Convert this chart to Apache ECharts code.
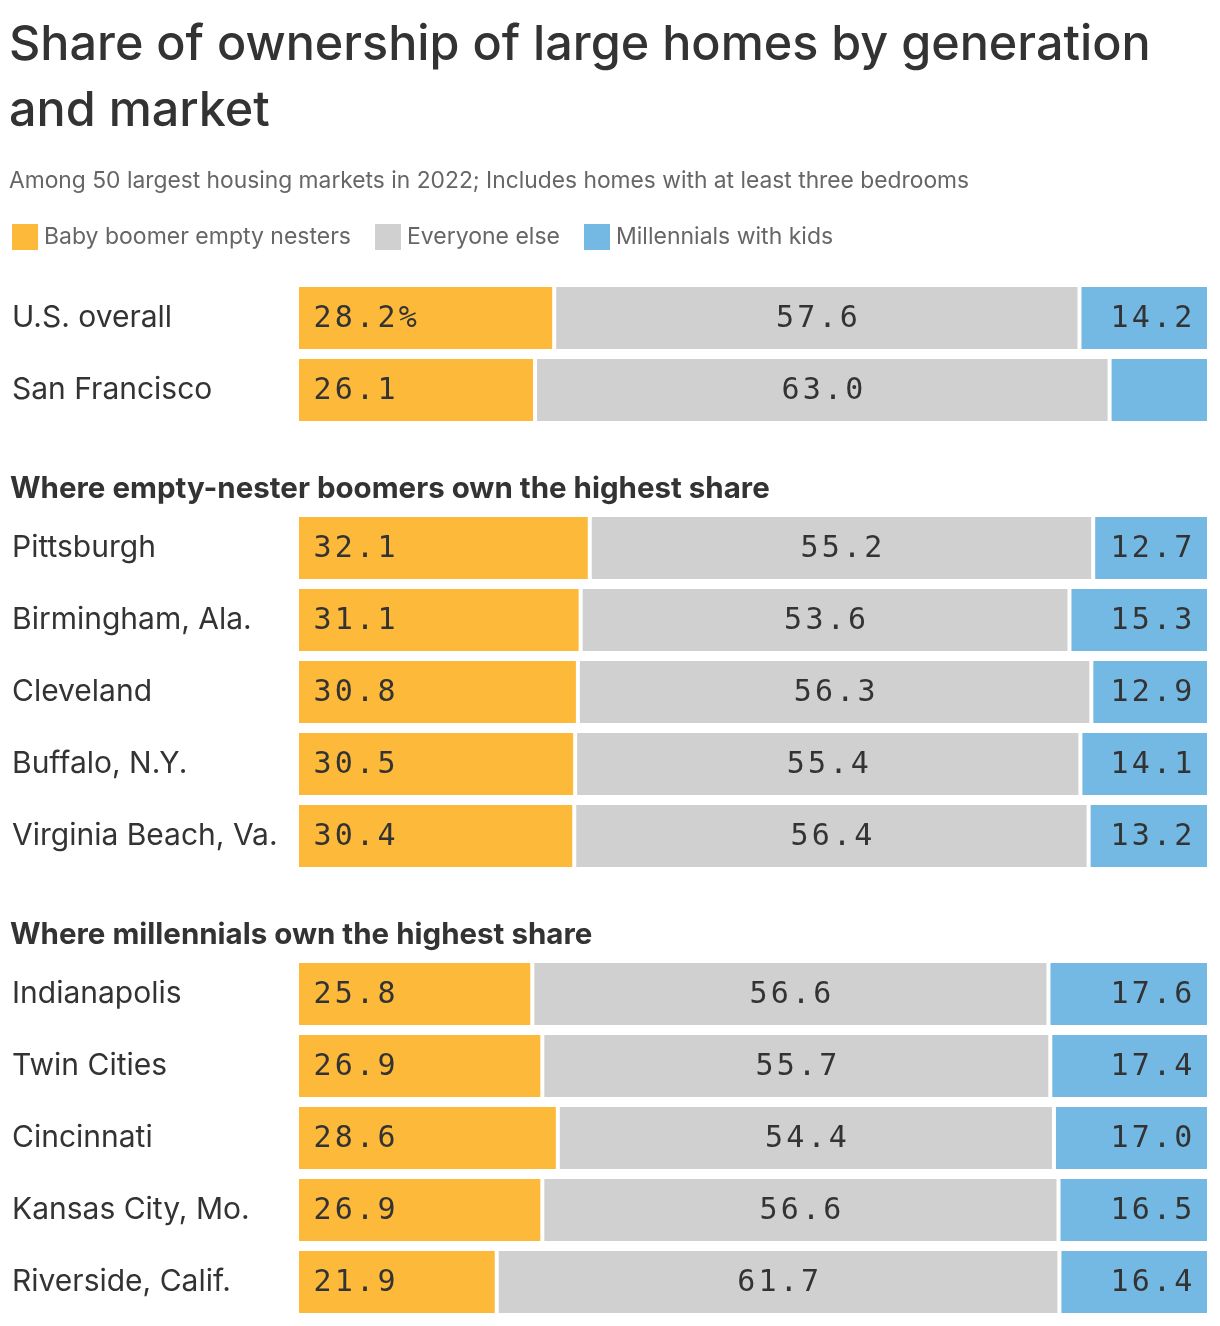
<!DOCTYPE html>
<html>
<head>
<meta charset="utf-8">
<script src="https://cdn.jsdelivr.net/npm/echarts@6/dist/echarts.min.js"></script>
<style>
html,body{margin:0;padding:0;background:#fff;}
#chart{width:1220px;height:1326px;}
</style>
</head>
<body>
<div id="chart"></div>
<script>
const seriesNames = ['Baby boomer empty nesters', 'Everyone else', 'Millennials with kids'];

const group1Cats = ['U.S. overall', 'San Francisco'];
const group1Boomers = [28.2, 26.1];
const group1Else = [57.6, 63.0];
const group1Millennials = [14.2, 10.9];

const group2Title = 'Where empty-nester boomers own the highest share';
const group2Cats = ['Pittsburgh', 'Birmingham, Ala.', 'Cleveland', 'Buffalo, N.Y.', 'Virginia Beach, Va.'];
const group2Boomers = [32.1, 31.1, 30.8, 30.5, 30.4];
const group2Else = [55.2, 53.6, 56.3, 55.4, 56.4];
const group2Millennials = [12.7, 15.3, 12.9, 14.1, 13.2];

const group3Title = 'Where millennials own the highest share';
const group3Cats = ['Indianapolis', 'Twin Cities', 'Cincinnati', 'Kansas City, Mo.', 'Riverside, Calif.'];
const group3Boomers = [25.8, 26.9, 28.6, 26.9, 21.9];
const group3Else = [56.6, 55.7, 54.4, 56.6, 61.7];
const group3Millennials = [17.6, 17.4, 17.0, 16.5, 16.4];

const colors = ['#FDB939', '#CFD0CF', '#74B9E3'];
const monoFont = '"DejaVu Sans Mono", "Liberation Mono", monospace';
const sansFont = 'Inter, Roboto, "Noto Sans", sans-serif';

const groups = [
  {cats: group1Cats, data: [group1Boomers, group1Else, group1Millennials], top: 282},
  {cats: group2Cats, data: [group2Boomers, group2Else, group2Millennials], top: 512},
  {cats: group3Cats, data: [group3Boomers, group3Else, group3Millennials], top: 958}
];

function spaced(s) {
  return s.split('').map(ch => '{c|' + ch + '}').join('');
}

const grids = [], xAxes = [], yAxes = [], series = [];
groups.forEach((g, gi) => {
  grids.push({left: 297, right: 11, top: g.top, height: g.cats.length * 72});
  xAxes.push({type: 'value', gridIndex: gi, min: 0, max: 100, show: false});
  yAxes.push({
    type: 'category', gridIndex: gi, data: g.cats, inverse: true,
    axisLine: {show: false}, axisTick: {show: false}, splitLine: {show: false},
    axisLabel: {align: 'left', margin: 285, fontSize: 30, color: '#333', fontFamily: sansFont}
  });
  g.data.forEach((vals, si) => {
    series.push({
      name: seriesNames[si], type: 'bar', stack: 'g' + gi,
      xAxisIndex: gi, yAxisIndex: gi,
      barWidth: 66,
      data: vals,
      itemStyle: {color: colors[si], borderColor: '#fff', borderWidth: 2},
      label: {
        show: true,
        position: si === 0 ? 'insideLeft' : (si === 1 ? 'inside' : 'insideRight'),
        distance: 15,
        offset: [0, 1],
        fontFamily: monoFont, fontSize: 30, color: '#333',
        rich: {c: {fontFamily: monoFont, fontSize: 30, color: '#333', padding: [0, 1.6, 0, 1.6]}},
        formatter: p => {
          if (gi === 0 && p.dataIndex === 1 && si === 2) return '';
          let s = p.value.toFixed(1);
          if (gi === 0 && p.dataIndex === 0 && si === 0) s += '%';
          return spaced(s);
        }
      },
      emphasis: {disabled: true}
    });
  });
});

const chart = echarts.init(document.getElementById('chart'), null, {renderer: 'canvas'});
chart.setOption({
  animation: false,
  backgroundColor: '#fff',
  color: colors,
  title: [
    {text: 'Share of ownership of large homes by generation\nand market', left: 9, top: 12, padding: 0,
     textStyle: {fontFamily: sansFont, fontSize: 48.5, fontWeight: 500, color: '#333', lineHeight: 66}},
    {text: 'Among 50 largest housing markets in 2022; Includes homes with at least three bedrooms', left: 9, top: 170, padding: 0,
     textStyle: {fontFamily: sansFont, fontSize: 22.8, fontWeight: 'normal', color: '#666'}},
    {text: group2Title, left: 10, top: 474, padding: 0,
     textStyle: {fontFamily: sansFont, fontSize: 29.5, fontWeight: 'bold', color: '#333'}},
    {text: group3Title, left: 10, top: 920, padding: 0,
     textStyle: {fontFamily: sansFont, fontSize: 29.5, fontWeight: 'bold', color: '#333'}}
  ],
  legend: {
    left: 10, top: 222, padding: 0, icon: 'rect', itemWidth: 28, itemHeight: 28, itemGap: 22,
    data: seriesNames,
    textStyle: {fontFamily: sansFont, fontSize: 23, color: '#666'},
    selectedMode: false
  },
  grid: grids,
  xAxis: xAxes,
  yAxis: yAxes,
  series: series
});
</script>
</body>
</html>
